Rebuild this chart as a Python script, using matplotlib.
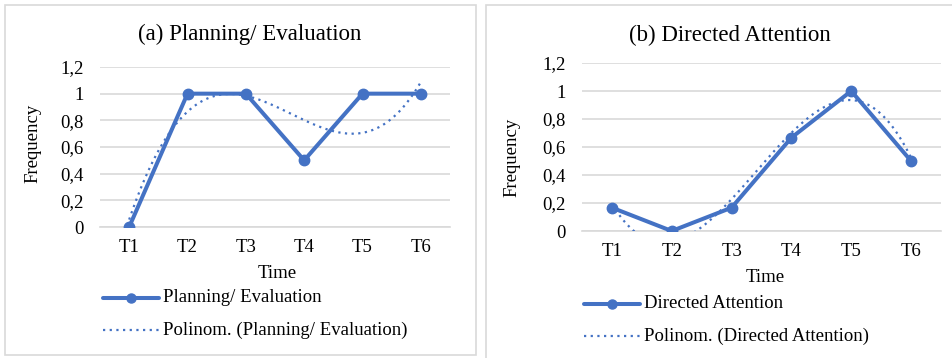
import matplotlib
matplotlib.use("Agg")
import matplotlib.pyplot as plt
import numpy as np
from matplotlib.patches import Rectangle

plt.rcParams['font.family'] = ['Liberation Serif', 'DejaVu Serif']

times = ["T1", "T2", "T3", "T4", "T5", "T6"]
planning = [0, 1, 1, 0.5, 1, 1]
attention = [1/6, 0, 1/6, 2/3, 1, 0.5]
yticks = [0, 0.2, 0.4, 0.6, 0.8, 1.0, 1.2]
ytick_labels = ["0", "0,2", "0,4", "0,6", "0,8", "1", "1,2"]

BLUE = "#4472C4"
GRID = "#D9D9D9"
W, H = 952, 358
DOTS = (0, (1, 2))

fig = plt.figure(figsize=(W / 100, H / 100), dpi=100)


def px_axes(x0, y0, x1, y1):
    # pixel box (top-left origin) -> figure fraction
    return fig.add_axes([x0 / W, 1 - y1 / H, (x1 - x0) / W, (y1 - y0) / H])


def panel(box, plot, title, title_xy, values, name, xlab, ylab, leg_y):
    bx0, by0, bx1, by1 = box
    fig.patches.append(Rectangle((bx0 / W, 1 - by1 / H), (bx1 - bx0) / W, (by1 - by0) / H,
                                 transform=fig.transFigure, fill=False,
                                 edgecolor=GRID, linewidth=1.2))
    px0, py0, px1, py1 = plot
    ax = px_axes(px0, py0, px1, py1)
    x = np.arange(1, len(times) + 1)
    ax.plot(x, values, color=BLUE, linewidth=2.9, marker="o", markersize=7.5,
            solid_capstyle="round", zorder=3)
    # Excel polynomial trendline (order 3)
    coef = np.polyfit(x, values, 3)
    xs = np.linspace(1, 6, 300)
    ax.plot(xs, np.polyval(coef, xs), color=BLUE, linewidth=1.6,
            linestyle=DOTS, zorder=4)
    ax.set_xlim(0.5, 6.5)
    ax.set_ylim(0, 1.2)
    ax.set_yticks(yticks)
    ax.set_yticklabels(ytick_labels)
    ax.set_xticks(x)
    ax.set_xticklabels(times)
    ax.yaxis.grid(True, color=GRID, linewidth=1.2)
    ax.set_axisbelow(True)
    for s in ax.spines.values():
        s.set_visible(False)
    ax.spines['bottom'].set_visible(True)
    ax.spines['bottom'].set_color(GRID)
    ax.spines['bottom'].set_linewidth(1.2)
    ax.tick_params(length=0, labelsize=13.5, colors="#000000", pad=9)
    ax.tick_params(axis='y', pad=12)

    fig.text(title_xy[0] / W, 1 - title_xy[1] / H, title, fontsize=16.5,
             ha="center", va="center")
    ax.set_xlabel("Time", fontsize=13.5, va="center")
    ax.set_ylabel("Frequency", fontsize=13.5, va="center")
    ax.xaxis.set_label_coords((xlab[0] - px0) / (px1 - px0), (py1 - xlab[1]) / (py1 - py0))
    ax.yaxis.set_label_coords((ylab[0] - px0) / (px1 - px0), (py1 - ylab[1]) / (py1 - py0))

    # legend drawn manually in pixel positions
    lx0, lx1 = bx0 + 98, bx0 + 154
    fig.lines.append(plt.Line2D([lx0 / W, lx1 / W], [1 - leg_y / H] * 2,
                                transform=fig.transFigure, color=BLUE, linewidth=2.9,
                                solid_capstyle="round"))
    fig.lines.append(plt.Line2D([(lx0 + lx1) / 2 / W], [1 - leg_y / H],
                                transform=fig.transFigure, color=BLUE, marker="o",
                                markersize=6.5, linestyle="none"))
    fig.lines.append(plt.Line2D([lx0 / W, lx1 / W], [1 - (leg_y + 32) / H] * 2,
                                transform=fig.transFigure, color=BLUE, linewidth=1.6,
                                linestyle=DOTS))
    fig.text((lx1 + 4) / W, 1 - leg_y / H, name, fontsize=13.5, va="center")
    fig.text((lx1 + 4) / W, 1 - (leg_y + 32) / H, "Polinom. (" + name + ")",
             fontsize=13.5, va="center")
    return ax


panel((5, 5, 476, 355), (100, 67, 450, 227), "(a) Planning/ Evaluation", (250, 34),
      planning, "Planning/ Evaluation", (277, 273), (33, 143), 298)
panel((486, 5, 960, 365), (582, 63, 941, 231), "(b) Directed Attention", (730, 35),
      attention, "Directed Attention", (765, 277), (512, 157), 304)

fig.savefig("out.png", dpi=100)
